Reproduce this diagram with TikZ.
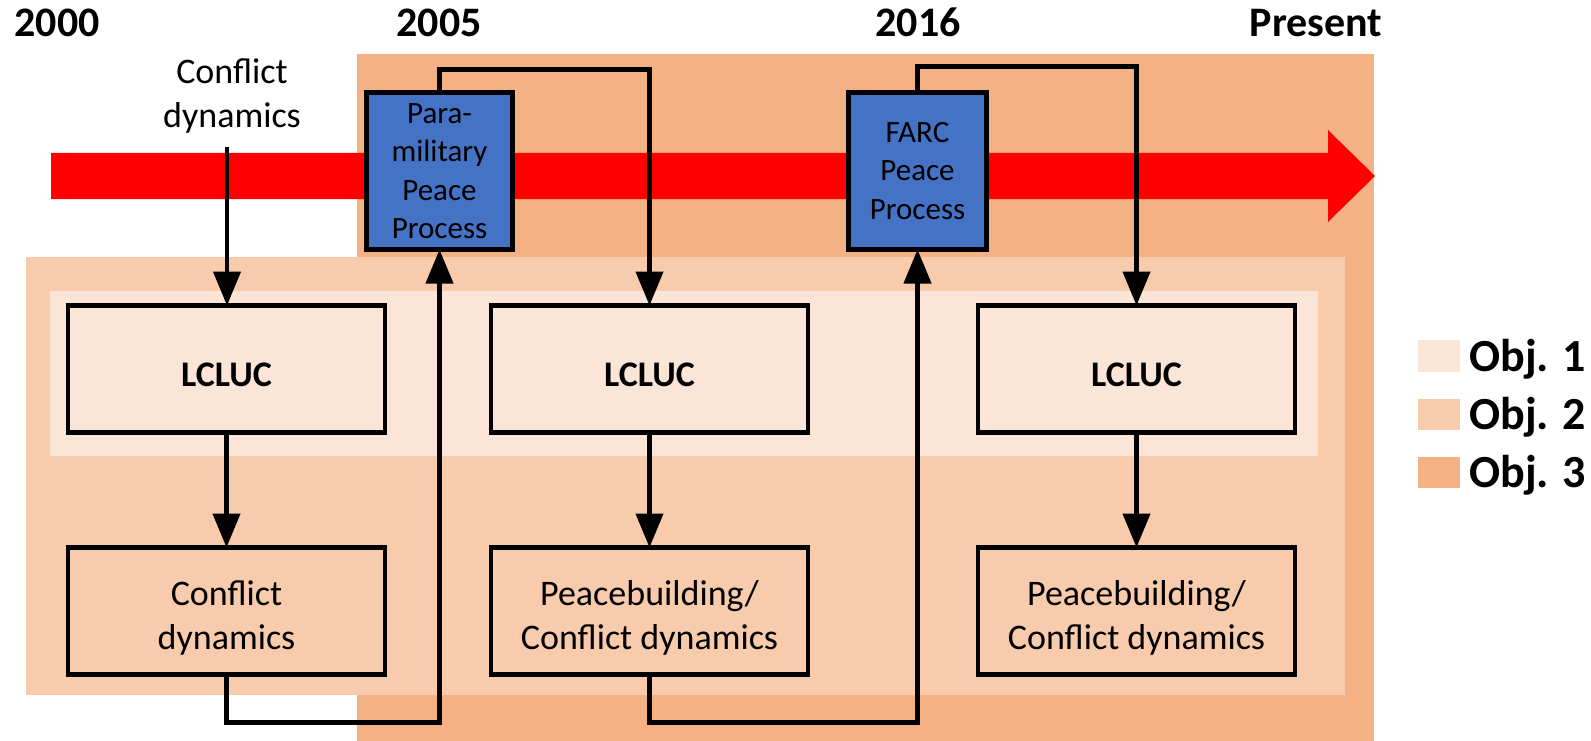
\documentclass[tikz,border=0pt]{standalone}
\usepackage{fontspec}
\setmainfont{Carlito}
\usetikzlibrary{arrows.meta}
\definecolor{objone}{HTML}{FBE5D6}
\definecolor{objtwo}{HTML}{F8CBAD}
\definecolor{objthree}{HTML}{F4B183}
\definecolor{ppblue}{HTML}{4472C4}
\tikzset{
  flowbox/.style={draw=black, line width=4.3pt, inner sep=0pt, outer sep=0pt,
    minimum width=317pt, minimum height=127pt},
  boxtext/.style={inner sep=0pt, align=center, font=\fontsize{36}{44}\selectfont},
  lclutext/.style={boxtext, font=\fontsize{36}{44}\selectfont\bfseries},
  ppbox/.style={draw=black, fill=ppblue, line width=4.3pt, inner sep=0pt, outer sep=0pt,
    minimum height=157pt, align=center, font=\fontsize{31}{38.5}\selectfont},
  arr/.style={line width=4.3pt, -{Triangle[width=27pt,length=34pt]}},
  year/.style={font=\fontsize{42}{50}\selectfont\bfseries, anchor=base, inner sep=0pt},
  legtext/.style={font=\fontsize{46}{55}\selectfont\bfseries, anchor=base west, inner sep=0pt},
}
\begin{document}
\begin{tikzpicture}[x=1pt,y=-1pt]
\useasboundingbox (0,0) rectangle (1591,741);
% objective backgrounds
\fill[objthree] (357,54) rectangle (1374,741);
\fill[objtwo] (26,257) rectangle (1345,695);
\fill[objone] (50,291) rectangle (1318,456);
% timeline arrow
\fill[red] (51,153) -- (1328,153) -- (1328,130) -- (1375,176) -- (1328,222) -- (1328,199) -- (51,199) -- cycle;
% years
\node[year] (y2000) at (57,37) {2000};
\node[year] (y2005) at (439,37) {2005};
\node[year] (y2016) at (918,37) {2016};
\node[year] (ypres) at (1316,37) {Present};
% boxes
\node[flowbox] (L1) at (226.5,369) {};
\node[flowbox] (L2) at (649.5,369) {};
\node[flowbox] (L3) at (1136.5,369) {};
\node[flowbox] (B1) at (226.5,611) {};
\node[flowbox] (B2) at (649.5,611) {};
\node[flowbox] (B3) at (1136.5,611) {};
\node[lclutext] (L1t) at ([yshift=-6pt]L1.center) {LCLUC};
\node[lclutext] (L2t) at ([yshift=-6pt]L2.center) {LCLUC};
\node[lclutext] (L3t) at ([yshift=-6pt]L3.center) {LCLUC};
\node[boxtext] (B1t) at ([yshift=-7pt]B1.center) {Conflict\\dynamics};
\node[boxtext] (B2t) at ([yshift=-7pt]B2.center) {Peacebuilding/\\Conflict dynamics};
\node[boxtext] (B3t) at ([yshift=-7pt]B3.center) {Peacebuilding/\\Conflict dynamics};
\node[ppbox, minimum width=146pt] (PP) at (439.5,171) {Para-\\military\\Peace\\Process};
\node[ppbox, minimum width=138pt] (FP) at (917.5,171) {FARC\\Peace\\Process};
\node[boxtext] (CD) at (232,96) {Conflict\\dynamics};
\coordinate (CDs) at (227,147);
% connectors
\draw[arr] (CDs) -- (CDs |- L1.north);
\draw[arr] (L1.south) -- (B1.north);
\draw[arr] (L2.south) -- (B2.north);
\draw[arr] (L3.south) -- (B3.north);
\draw[arr] (B1.south) -- ++(0,48) -| (PP.south);
\draw[arr] (PP.north) -- ++(0,-23) -| (L2.north);
\draw[arr] (B2.south) -- ++(0,48) -| (FP.south);
\draw[arr] (FP.north) -- ++(0,-26) -| (L3.north);
% legend
\fill[objone] (1418,340) rectangle (1460,372);
\fill[objtwo] (1418,399) rectangle (1460,430);
\fill[objthree] (1418,457) rectangle (1460,488);
\node[legtext] (lg1) at (1469,371) {Obj. 1};
\node[legtext] (lg2) at (1469,429) {Obj. 2};
\node[legtext] (lg3) at (1469,487) {Obj. 3};
\end{tikzpicture}
\end{document}
